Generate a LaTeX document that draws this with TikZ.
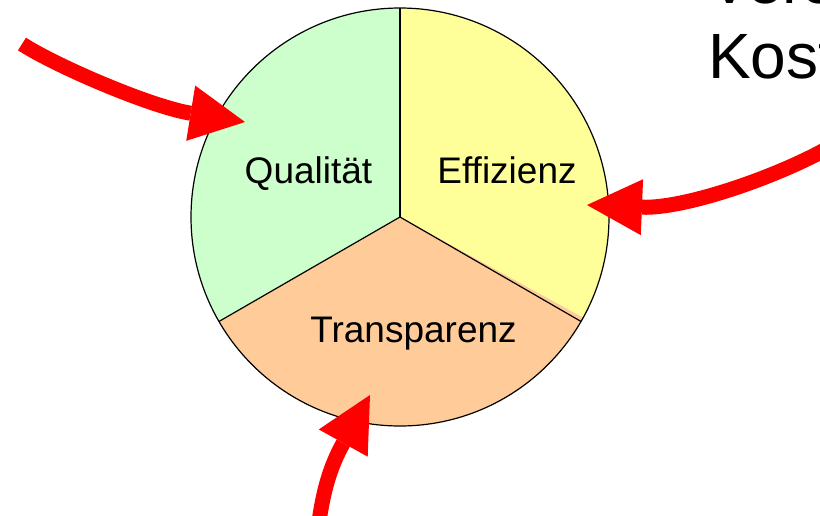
\documentclass[tikz,border=0pt]{standalone}
\usepackage{fontspec}
\setmainfont{Liberation Sans}
\usetikzlibrary{arrows.meta}
\definecolor{qgreen}{HTML}{CCFFCC}
\definecolor{eyellow}{HTML}{FFFF99}
\definecolor{torange}{HTML}{FFCC99}
\begin{document}
\begin{tikzpicture}[x=1pt,y=-1pt,
  lbl/.style={font=\fontsize{37}{44}\selectfont, inner sep=0pt, anchor=base},
  bigtext/.style={font=\fontsize{64}{77}\selectfont, inner sep=0pt, anchor=base west},
  redarrow/.style={draw=red, line width=15pt, -{Triangle[length=55pt,width=56pt,line width=0pt]}},
  rim/.style={draw=black, line width=1.2pt}]
\useasboundingbox (0,0) rectangle (820,515);
\clip (0,0) rectangle (820,515);
% circle geometry
\coordinate (c) at (400,217);
\coordinate (top) at (400,8);
\coordinate (ll) at (218.9,321.5);
\coordinate (lr) at (581.1,321.5);
\begin{scope}
  \clip (c) circle[radius=209pt];
  \fill[qgreen] (c) -- (400,0) -- (0,0) -- (0,447.8) -- cycle;
  \fill[eyellow] (c) -- (400,0) -- (820,0) -- (820,447.8) -- cycle;
  \fill[torange] (c) -- (0,447.8) -- (0,515) -- (820,515) -- (820,447.8) -- cycle;
\end{scope}
\draw[rim] (c) -- (top);
\draw[rim] (c) -- (ll);
\draw[rim] (c) -- (lr);
\draw[rim] (c) circle[radius=209pt];
% labels
\node[lbl] (qual) at (308.5,183) {Qualität};
\node[lbl] (eff) at (507,183) {Effizienz};
\node[lbl] (trans) at (413.5,342) {Transparenz};
\node[bigtext] (vers) at (708,3.5) {Verstärkter};
\node[bigtext] (kost) at (708,78) {Kostendruck};
% arrows
\coordinate (a1s) at (22,44);
\coordinate (a1e) at (245,122);
\draw[redarrow] (a1s) .. controls (55.5,65.8) and (150.5,106.7) .. (a1e);
\coordinate (a2s) at (840,141);
\coordinate (a2e) at (587,205);
\draw[redarrow] (a2s) .. controls (789,173) and (687,209) .. (a2e);
\coordinate (a3s) at (318.5,525);
\coordinate (a3e) at (370,395);
\draw[redarrow] (a3s) .. controls (322.7,495.3) and (328.4,469.7) .. (a3e);
\end{tikzpicture}
\end{document}
